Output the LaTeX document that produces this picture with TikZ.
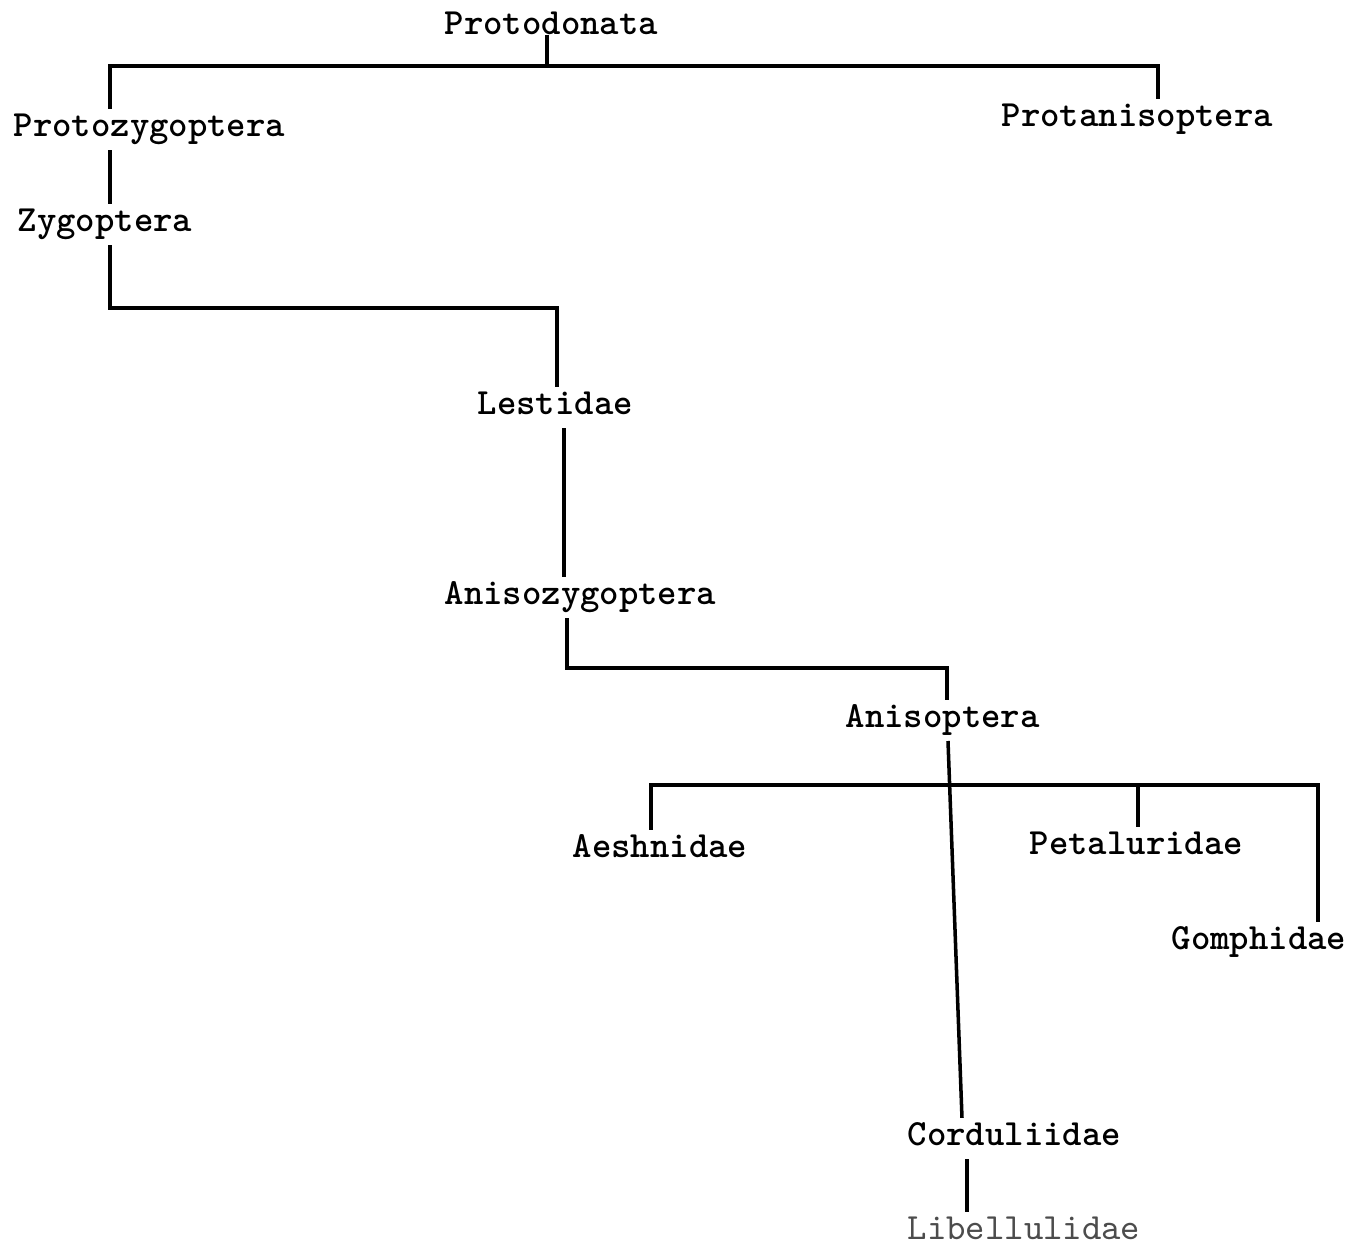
\documentclass[tikz,border=0pt]{standalone}
\usepackage{fontspec}
\begin{document}
\begin{tikzpicture}[x=0.01cm,y=-0.01cm,
        taxon/.style={anchor=base west,inner xsep=0pt,inner ysep=1.5pt,
            text height=6pt,text depth=1.7pt,
            font=\ttfamily\bfseries\fontsize{10.5}{12}\selectfont},
        faint/.style={taxon,text=black!70,font=\ttfamily\fontsize{10.5}{12}\selectfont}]

        % Stile globale per le linee
        \tikzstyle{every path}=[line width=1pt]
        \useasboundingbox (0,0) rectangle (1353,1246);

        % Nomi dei taxa (posizione della linea di base)
        \node[taxon] (protodonata) at (443,35) {Protodonata};
        \node[taxon] (protozyg)    at (12,137)  {Protozygoptera};
        \node[taxon] (protanis)    at (1000,127) {Protanisoptera};
        \node[taxon] (zygoptera)   at (16,232)  {Zygoptera};
        \node[taxon] (lestidae)    at (476,415) {Lestidae};
        \node[taxon] (anisozyg)    at (443,605) {Anisozygoptera};
        \node[taxon] (anisoptera)  at (844,728) {Anisoptera};
        \node[taxon] (aeshnidae)   at (571,858) {Aeshnidae};
        \node[taxon] (petaluridae) at (1028,855) {Petaluridae};
        \node[taxon] (gomphidae)   at (1170,950) {Gomphidae};
        \node[taxon] (corduliidae) at (906,1146) {Corduliidae};
        \node[faint] (libellulidae) at (906,1240) {Libellulidae};

        % Punti di diramazione
        \coordinate (c1) at (547,66);
        \coordinate (c2) at (110,66);
        \coordinate (c3) at (1158,66);
        \coordinate (c4) at (110,308);
        \coordinate (c5) at (557,308);
        \coordinate (c6) at (564,0);
        \coordinate (c7) at (567,668);
        \coordinate (c8) at (947,668);
        \coordinate (c9) at (948,0);
        \coordinate (c10) at (962,0);
        \coordinate (c11) at (651,785);
        \coordinate (c12) at (1318,785);
        \coordinate (c13) at (1138,785);
        \coordinate (c14) at (967,0);

        % Rami dell'albero
        \draw (protodonata.base -| c1) -- (c1);
        \draw (c2 |- protozyg.north) -- (c2) -- (c3) -- (c3 |- protanis.north);
        \draw (c2 |- protozyg.south) -- (c2 |- zygoptera.north);
        \draw (c2 |- zygoptera.south) -- (c4) -- (c5) -- (c5 |- lestidae.north);
        \draw (c6 |- lestidae.south) -- (c6 |- anisozyg.north);
        \draw (c7 |- anisozyg.south) -- (c7) -- (c8) -- (c8 |- anisoptera.north);
        \draw (c9 |- anisoptera.south) -- (c10 |- corduliidae.north);
        \draw (c11 |- aeshnidae.north) -- (c11) -- (c12) -- (c12 |- gomphidae.north);
        \draw (c13) -- (c13 |- petaluridae.north);
        \draw (c14 |- corduliidae.south) -- (c14 |- libellulidae.north);

    \end{tikzpicture}
\end{document}
